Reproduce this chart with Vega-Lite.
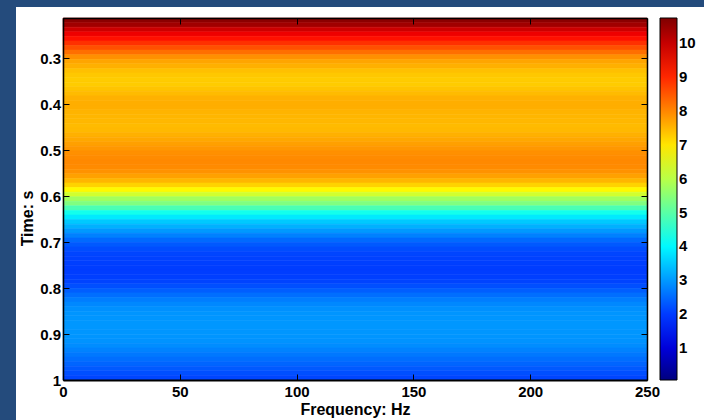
{
  "$schema": "https://vega.github.io/schema/vega-lite/v6.json",
  "width": 584,
  "height": 362,
  "autosize": {"type": "none"},
  "padding": {"left": 63, "top": 18, "right": 57, "bottom": 40},
  "background": "#244b7c",
  "config": {
    "view": {"stroke": null},
    "font": "Liberation Sans",
    "axis": {
      "domainColor": "black",
      "domainWidth": 1.5,
      "tickColor": "black",
      "tickWidth": 1,
      "grid": false,
      "labelFont": "Liberation Sans",
      "labelFontSize": 15,
      "labelFontWeight": "bold",
      "labelColor": "black",
      "labelFlush": false,
      "labelOverlap": false,
      "titleFont": "Liberation Sans",
      "titleFontSize": 16,
      "titleFontWeight": "bold",
      "titleColor": "black"
    },
    "legend": {
      "padding": 0,
      "labelFont": "Liberation Sans",
      "labelFontSize": 15,
      "labelFontWeight": "bold",
      "labelColor": "black"
    }
  },
  "datasets": {
    "bands": [
      {"t0": 0.2130, "t1": 0.2230, "v": 10.61},
      {"t0": 0.2230, "t1": 0.2329, "v": 10.40},
      {"t0": 0.2329, "t1": 0.2429, "v": 9.94},
      {"t0": 0.2429, "t1": 0.2528, "v": 9.58},
      {"t0": 0.2528, "t1": 0.2628, "v": 9.24},
      {"t0": 0.2628, "t1": 0.2728, "v": 8.90},
      {"t0": 0.2728, "t1": 0.2827, "v": 8.57},
      {"t0": 0.2827, "t1": 0.2927, "v": 8.24},
      {"t0": 0.2927, "t1": 0.3027, "v": 7.90},
      {"t0": 0.3027, "t1": 0.3126, "v": 7.68},
      {"t0": 0.3126, "t1": 0.3226, "v": 7.56},
      {"t0": 0.3226, "t1": 0.3325, "v": 7.39},
      {"t0": 0.3325, "t1": 0.3425, "v": 7.31},
      {"t0": 0.3425, "t1": 0.3525, "v": 7.27},
      {"t0": 0.3525, "t1": 0.3624, "v": 7.27},
      {"t0": 0.3624, "t1": 0.3724, "v": 7.35},
      {"t0": 0.3724, "t1": 0.3824, "v": 7.45},
      {"t0": 0.3824, "t1": 0.3923, "v": 7.55},
      {"t0": 0.3923, "t1": 0.4023, "v": 7.58},
      {"t0": 0.4023, "t1": 0.4122, "v": 7.58},
      {"t0": 0.4122, "t1": 0.4222, "v": 7.52},
      {"t0": 0.4222, "t1": 0.4322, "v": 7.50},
      {"t0": 0.4322, "t1": 0.4421, "v": 7.48},
      {"t0": 0.4421, "t1": 0.4521, "v": 7.45},
      {"t0": 0.4521, "t1": 0.4621, "v": 7.47},
      {"t0": 0.4621, "t1": 0.4720, "v": 7.55},
      {"t0": 0.4720, "t1": 0.4820, "v": 7.65},
      {"t0": 0.4820, "t1": 0.4919, "v": 7.73},
      {"t0": 0.4919, "t1": 0.5019, "v": 7.82},
      {"t0": 0.5019, "t1": 0.5119, "v": 7.90},
      {"t0": 0.5119, "t1": 0.5218, "v": 7.95},
      {"t0": 0.5218, "t1": 0.5318, "v": 7.97},
      {"t0": 0.5318, "t1": 0.5417, "v": 7.95},
      {"t0": 0.5417, "t1": 0.5517, "v": 7.88},
      {"t0": 0.5517, "t1": 0.5617, "v": 7.72},
      {"t0": 0.5617, "t1": 0.5716, "v": 7.50},
      {"t0": 0.5716, "t1": 0.5816, "v": 7.20},
      {"t0": 0.5816, "t1": 0.5916, "v": 6.80},
      {"t0": 0.5916, "t1": 0.6015, "v": 6.25},
      {"t0": 0.6015, "t1": 0.6115, "v": 5.75},
      {"t0": 0.6115, "t1": 0.6214, "v": 5.40},
      {"t0": 0.6214, "t1": 0.6314, "v": 4.85},
      {"t0": 0.6314, "t1": 0.6414, "v": 4.25},
      {"t0": 0.6414, "t1": 0.6513, "v": 3.85},
      {"t0": 0.6513, "t1": 0.6613, "v": 3.50},
      {"t0": 0.6613, "t1": 0.6713, "v": 3.25},
      {"t0": 0.6713, "t1": 0.6812, "v": 3.00},
      {"t0": 0.6812, "t1": 0.6912, "v": 2.75},
      {"t0": 0.6912, "t1": 0.7011, "v": 2.50},
      {"t0": 0.7011, "t1": 0.7111, "v": 2.33},
      {"t0": 0.7111, "t1": 0.7211, "v": 2.20},
      {"t0": 0.7211, "t1": 0.7310, "v": 2.12},
      {"t0": 0.7310, "t1": 0.7410, "v": 2.08},
      {"t0": 0.7410, "t1": 0.7509, "v": 2.05},
      {"t0": 0.7509, "t1": 0.7609, "v": 2.03},
      {"t0": 0.7609, "t1": 0.7709, "v": 2.03},
      {"t0": 0.7709, "t1": 0.7808, "v": 2.05},
      {"t0": 0.7808, "t1": 0.7908, "v": 2.10},
      {"t0": 0.7908, "t1": 0.8008, "v": 2.22},
      {"t0": 0.8008, "t1": 0.8107, "v": 2.38},
      {"t0": 0.8107, "t1": 0.8207, "v": 2.55},
      {"t0": 0.8207, "t1": 0.8306, "v": 2.70},
      {"t0": 0.8306, "t1": 0.8406, "v": 2.82},
      {"t0": 0.8406, "t1": 0.8506, "v": 2.90},
      {"t0": 0.8506, "t1": 0.8605, "v": 2.95},
      {"t0": 0.8605, "t1": 0.8705, "v": 2.97},
      {"t0": 0.8705, "t1": 0.8805, "v": 2.98},
      {"t0": 0.8805, "t1": 0.8904, "v": 2.98},
      {"t0": 0.8904, "t1": 0.9004, "v": 2.97},
      {"t0": 0.9004, "t1": 0.9103, "v": 2.96},
      {"t0": 0.9103, "t1": 0.9203, "v": 2.93},
      {"t0": 0.9203, "t1": 0.9303, "v": 2.87},
      {"t0": 0.9303, "t1": 0.9402, "v": 2.77},
      {"t0": 0.9402, "t1": 0.9502, "v": 2.65},
      {"t0": 0.9502, "t1": 0.9601, "v": 2.55},
      {"t0": 0.9601, "t1": 0.9701, "v": 2.45},
      {"t0": 0.9701, "t1": 0.9801, "v": 2.33},
      {"t0": 0.9801, "t1": 0.9900, "v": 2.22},
      {"t0": 0.9900, "t1": 1.0000, "v": 2.12}
    ]
  },
  "layer": [
    {
      "data": {"values": [{}]},
      "mark": {"type": "rect", "fill": "white", "clip": false},
      "encoding": {
        "x": {
          "datum": -20.12,
          "type": "quantitative",
          "scale": {"domain": [0, 250], "nice": false, "zero": false},
          "axis": {"orient": "top", "values": [0, 50, 100, 150, 200, 250], "labels": false, "tickSize": -6, "title": null, "zindex": 2}
        },
        "x2": {"datum": 285},
        "y": {
          "datum": 0.189,
          "type": "quantitative",
          "scale": {"domain": [0.213, 1], "reverse": true, "nice": false, "zero": false},
          "axis": {"orient": "right", "values": [0.3, 0.4, 0.5, 0.6, 0.7, 0.8, 0.9, 1], "labels": false, "tickSize": -6, "title": null, "zindex": 2}
        },
        "y2": {"datum": 1.12}
      }
    },
    {
      "data": {"name": "bands"},
      "mark": {"type": "rect", "strokeWidth": 0.6, "stroke": {"expr": "scale('color', datum.v)"}},
      "encoding": {
        "x": {
          "datum": 0,
          "type": "quantitative",
          "axis": {"orient": "bottom", "values": [0, 50, 100, 150, 200, 250], "format": "d", "tickSize": -6, "labelPadding": 10, "domainWidth": 2, "title": "Frequency: Hz", "titlePadding": 2, "zindex": 2}
        },
        "x2": {"datum": 250},
        "y": {
          "field": "t0",
          "type": "quantitative",
          "axis": {"orient": "left", "values": [0.3, 0.4, 0.5, 0.6, 0.7, 0.8, 0.9, 1], "labelExpr": "datum.value == 1 ? '1' : format(datum.value, '.1f')", "tickSize": -6, "labelPadding": 8.5, "title": "Time: s", "titlePadding": 4, "titleY": 200, "zindex": 2}
        },
        "y2": {"field": "t1"},
        "color": {
          "field": "v",
          "type": "quantitative",
          "scale": {
            "type": "linear",
            "domain": [0.06, 1.395, 4.065, 6.735, 9.405, 10.74],
            "range": ["#00007f", "#0000ff", "#00ffff", "#ffff00", "#ff0000", "#7f0000"],
            "interpolate": "rgb"
          },
          "legend": {
            "type": "gradient",
            "orient": "right",
            "title": null,
            "direction": "vertical",
            "gradientLength": 362,
            "gradientThickness": 17,
            "gradientStrokeColor": "black",
            "gradientStrokeWidth": 1,
            "offset": 12,
            "labelOffset": 2,
            "values": [1, 2, 3, 4, 5, 6, 7, 8, 9, 10],
            "labelOverlap": false
          }
        }
      }
    }
  ]
}
